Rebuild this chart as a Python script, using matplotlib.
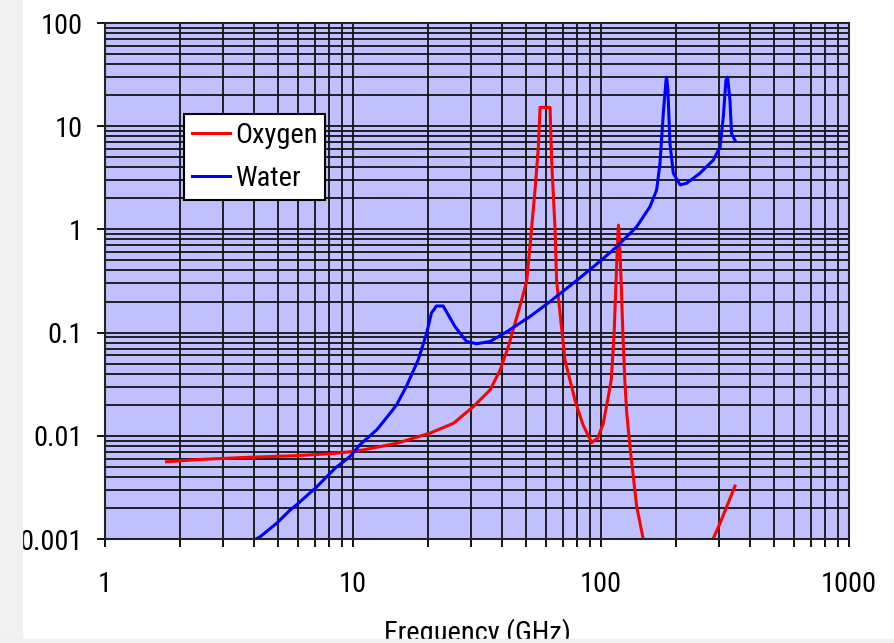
import matplotlib
matplotlib.use('Agg')
import matplotlib.pyplot as plt
from matplotlib.ticker import LogLocator, NullFormatter
from matplotlib.patches import Rectangle
from matplotlib import font_manager
from matplotlib.font_manager import FontProperties
from matplotlib.textpath import TextPath
import numpy as np

# ---- data ----
oxygen_f = [1.77, 2.42, 3.84, 5.73, 8.08, 9.72, 11.0, 15.0, 20.4, 25.4, 30.5, 35.7,
            39.2, 42.3, 45.0, 47.9, 50.2, 51.7, 54.2, 55.9, 56.8, 62.3, 63.3, 65.3,
            66.2, 71.6, 78.6, 84.6, 91.7, 97.0, 102.0, 107.0, 110.0, 113.0, 115.0,
            116.5, 117.6, 119.0, 120.5, 122.5, 124.7, 127.0, 130.9, 139.3, 148.0,
            165.0, 220.0, 270.0, 283.0, 302.0, 347.0]
oxygen_v = [0.0056, 0.0059, 0.0062, 0.0064, 0.0067, 0.0070, 0.0073, 0.00845, 0.0106,
            0.0132, 0.0191, 0.0278, 0.0434, 0.073, 0.123, 0.207, 0.32, 0.68, 2.41,
            6.3, 15.2, 15.2, 4.4, 0.99, 0.32, 0.054, 0.022, 0.0128, 0.0086, 0.0095,
            0.013, 0.024, 0.035, 0.1, 0.32, 0.7, 1.1, 0.7, 0.32, 0.1, 0.035, 0.0166,
            0.0078, 0.00206, 0.001, 0.0004, 0.0002, 0.0006, 0.001, 0.00142, 0.00326]

water_f = [3.9, 4.22, 4.92, 5.57, 6.02, 7.14, 8.46, 9.72, 10.67, 12.5, 14.1, 15.0,
           16.4, 18.3, 19.8, 20.7, 21.7, 23.1, 25.8, 28.7, 31.5, 35.7, 41.7, 51.7,
           62.3, 79.8, 100.0, 115.7, 139.2, 157.6, 167.6, 172.9, 178.3, 182.9, 184.0,
           186.0, 189.7, 195.7, 208.5, 221.5, 250.5, 283.8, 302.0, 311.4, 319.0,
           324.0, 331.0, 336.0, 347.0]
water_v = [0.00095, 0.00105, 0.00142, 0.0019, 0.00222, 0.0032, 0.00484, 0.0063,
           0.0082, 0.0115, 0.0165, 0.020, 0.030, 0.054, 0.098, 0.154, 0.181, 0.181,
           0.114, 0.082, 0.078, 0.082, 0.102, 0.143, 0.2, 0.32, 0.5, 0.68, 1.06,
           1.66, 2.41, 4.37, 13.3, 28.0, 29.8, 23.2, 6.8, 3.5, 2.7, 2.8, 3.5, 4.7,
           6.3, 12.4, 28.0, 29.8, 18.0, 8.5, 7.3]

x_ticks = [1, 10, 100, 1000]
x_tick_labels = ['1', '10', '100', '1000']
y_ticks = [0.001, 0.01, 0.1, 1, 10, 100]
y_tick_labels = ['0.001', '0.01', '0.1', '1', '10', '100']
series_labels = ['Oxygen', 'Water']
x_label = 'Frequency (GHz)'

# ---- font choice: an Arial-like narrow face if one is installed ----
available = {f.name for f in font_manager.fontManager.ttflist}
TARGET_H, TARGET_W = 20.7, 40.0   # pixel size of the digits "100" in the reference


def measure(name):
    p = TextPath((0, 0), '100', size=100, prop=FontProperties(family=name))
    e = p.get_extents()
    return e.width, e.height


chosen = None
for pref in ['Liberation Sans Narrow', 'Arial Narrow', 'Arimo Narrow',
             'Roboto Condensed', 'Archivo Narrow']:
    if pref in available:
        chosen = pref
        break
if chosen is None:
    chosen = 'Liberation Sans'
w100, h100 = measure(chosen)
FS = min(TARGET_H * 72.0 / h100, TARGET_W * 72.0 / w100)

plt.rcParams['font.family'] = [chosen, 'DejaVu Sans']

W, H = 895, 643
fig = plt.figure(figsize=(W / 100, H / 100), dpi=100)
fig.patch.set_facecolor('white')
ax = fig.add_axes([105 / W, 1 - 539 / H, (849 - 105) / W, (539 - 23) / H])
ax.set_facecolor('#C0C0FF')
ax.set_xscale('log')
ax.set_yscale('log')
ax.set_xlim(1, 1000)
ax.set_ylim(0.001, 100)

ax.plot(oxygen_f, oxygen_v, color='#FF0000', lw=2.2, label=series_labels[0])
ax.plot(water_f, water_v, color='#0000FF', lw=2.2, label=series_labels[1])

ax.set_xticks(x_ticks)
ax.set_xticklabels(x_tick_labels)
ax.set_yticks(y_ticks)
ax.set_yticklabels(y_tick_labels)
ax.xaxis.set_minor_locator(LogLocator(base=10, subs=np.arange(2, 10), numticks=20))
ax.yaxis.set_minor_locator(LogLocator(base=10, subs=np.arange(2, 10), numticks=20))
ax.xaxis.set_minor_formatter(NullFormatter())
ax.yaxis.set_minor_formatter(NullFormatter())

ax.set_axisbelow(True)
ax.grid(which='both', color='#111111', lw=1.3)
ax.tick_params(axis='x', which='both', direction='out', length=6, width=1.3,
               pad=17, labelsize=FS, colors='black')
ax.tick_params(axis='y', which='major', direction='out', length=6, width=1.3,
               pad=10, labelsize=FS)
ax.tick_params(axis='y', which='minor', length=0)
for s in ax.spines.values():
    s.set_linewidth(1.5)
    s.set_color('#222222')

ax.set_xlabel(x_label, fontsize=FS)
ax.xaxis.set_label_coords(0.5, (539 - 618) / 516)
ax.xaxis.label.set_va('top')

fs_px = FS * 100 / 72.0


def make_legend(ls, bp):
    lg = ax.legend(loc='upper left', bbox_to_anchor=(184 / W, 1 - 114 / H),
                   bbox_transform=fig.transFigure, borderaxespad=0, frameon=True,
                   fancybox=False, shadow=False, fontsize=FS,
                   handlelength=38 / fs_px, handletextpad=5 / fs_px,
                   borderpad=bp, labelspacing=ls)
    fr = lg.get_frame()
    fr.set_edgecolor('black')
    fr.set_linewidth(1.5)
    fr.set_facecolor('white')
    fr.set_alpha(1)
    return lg


ls, bp = 0.5, 8 / fs_px
leg = make_legend(ls, bp)
# tune the row spacing to the reference (43 px between rows)
for _ in range(2):
    fig.canvas.draw()
    r = fig.canvas.get_renderer()
    tb = [t.get_window_extent(r) for t in leg.get_texts()]
    d = (tb[0].y0 + tb[0].y1) / 2 - (tb[1].y0 + tb[1].y1) / 2
    ls = max(0.0, ls + (43 - d) / fs_px)
    leg.remove()
    leg = make_legend(ls, bp)

# screenshot borders
fig.add_artist(Rectangle((0, 0), 22 / W, 1, transform=fig.transFigure,
                         color='#f1f1f1', zorder=10))
fig.add_artist(Rectangle((0, 0), 1, 4 / H, transform=fig.transFigure,
                         color='#efefef', zorder=10))

fig.savefig('out.png', dpi=100)
